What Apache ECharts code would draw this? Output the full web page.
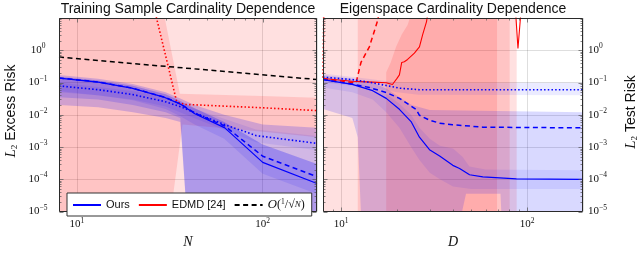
<!DOCTYPE html>
<html><head><meta charset="utf-8">
<script src="https://cdn.jsdelivr.net/npm/echarts@6/dist/echarts.min.js"></script>
<style>html,body{margin:0;padding:0;background:#fff}#c{width:640px;height:254px}</style>
</head><body><div id="c"></div>
<script>
// ================= DATA: left panel (x = N, training samples) =================
const N_ours = [8, 13, 19.7, 29.7, 36.5, 43.1, 62.5, 100, 196];
const L_ours_solid  = [0.137, 0.103, 0.0674, 0.0345, 0.0206, 0.0108, 0.00394, 3.36e-4, 7.4e-5];
const L_ours_dashed = [0.139, 0.104, 0.068, 0.035, 0.021, 0.0112, 0.0045, 5.2e-4, 1.21e-4];
const N_dot = [8, 13, 19.7, 29.7, 36.5, 44.7, 64, 92.5, 196];
const L_ours_dotted = [0.0786, 0.060, 0.043, 0.0257, 0.0174, 0.0105, 0.0047, 0.00226, 0.0013];
const N_edmd = [24, 34.4, 38, 100, 196];
const L_edmd_dotted = [140, 0.0257, 0.021, 0.0165, 0.0135];
const N_ref = [8, 196];
const L_ref = [0.614, 0.124];

// bands (left) : [x, value] pairs
const L_red1_up = [[8, 1e3], [196, 1e3]];
const L_red1_lo = [[8, 1e-6], [196, 1e-6]];
const L_red2_up = [[8, 1e3], [29.3, 1e3], [29.7, 10], [35.8, 0.045], [100, 0.038], [196, 0.034]];
const L_red2_lo = [[8, 1e-6], [30.4, 1e-6], [37, 0.005], [100, 0.003], [196, 0.002]];
const L_blueA_up = [[8, 0.17], [13, 0.13], [20, 0.09], [30, 0.05], [36, 0.032], [43, 0.02], [62, 0.01], [100, 0.005], [196, 0.004]];
const L_blueA_lo = [[8, 0.02], [13, 0.017], [20, 0.012], [30, 0.008], [36, 0.006], [40, 1e-6], [196, 1e-6]];
const L_blueB_up = [[8, 0.15], [13, 0.115], [20, 0.08], [30, 0.043], [36, 0.027], [43, 0.016], [62, 0.006], [100, 0.0012], [196, 3e-4]];
const L_blueB_lo = [[8, 0.035], [13, 0.03], [20, 0.02], [30, 0.012], [36, 0.008], [40, 1e-6], [196, 1e-6]];
const L_blueC_up = [[8, 0.15], [13, 0.115], [20, 0.08], [30, 0.043], [36, 0.027], [43, 0.016], [62, 0.006], [100, 0.0012], [196, 3e-4]];
const L_blueC_lo = [[8, 0.05], [13, 0.04], [20, 0.028], [30, 0.015], [36, 0.009], [43, 0.005], [62, 0.0018], [100, 1.5e-4], [196, 3.5e-5]];
const L_blueD_up = [[8, 0.1], [20, 0.055], [30, 0.035], [45, 0.014], [92, 0.0035], [196, 0.0022]];
const L_blueD_lo = [[8, 0.055], [20, 0.03], [30, 0.018], [45, 0.007], [92, 0.0014], [196, 8e-4]];

// ================= DATA: right panel (x = D, eigenspace size) =================
const D_ours_solid = [8, 11.5, 14.8, 17.5, 20.6, 23.8, 26.4, 29.9, 33.9, 39.9, 43.4, 49.1, 57.9, 87.7, 200];
const R_ours_solid = [0.123, 0.088, 0.056, 0.0323, 0.0148, 0.00618, 0.00202, 8.3e-4, 5.3e-4, 2.71e-4, 2.17e-4, 1.39e-4, 1.19e-4, 1.04e-4, 9.9e-5];
const D_ours_dashed = [8, 11.5, 14.2, 17.5, 20.6, 25.3, 26.4, 29.9, 33.9, 39.8, 57.8, 200];
const R_ours_dashed = [0.123, 0.09, 0.070, 0.049, 0.0323, 0.0148, 0.00967, 0.00683, 0.0055, 0.00495, 0.00413, 0.00394];
const D_ours_dotted = [8, 11.5, 14.8, 20.6, 26.4, 200];
const R_ours_dotted = [0.147, 0.123, 0.098, 0.067, 0.060, 0.060];
const D_edmd_solid = [8, 11.5, 14.8, 17.5, 18.9, 19.2, 20.0, 20.6, 21.2, 21.9, 22.8, 24.8, 26.4, 27.5, 28.8, 31, 85, 89.4, 94];
const R_edmd_solid = [0.134, 0.11, 0.103, 0.098, 0.087, 0.079, 0.134, 0.172, 0.419, 0.44, 0.52, 0.818, 1.28, 3.12, 7.6, 100, 100, 1.14, 40];
const D_edmd_dashed = [8, 12.05, 12.8, 14.2, 15.1, 15.75, 17, 93];
const R_edmd_dashed = [0.13, 0.098, 0.419, 1.28, 3.9, 8.5, 100, 100];
const D_edmd_dotted = [8, 8.15, 90];
const R_edmd_dotted = [0.14, 1000, 1000];

// bands (right)
const R_red1_up = [[8, 1e3], [88, 1e3]];
const R_red1_lo = [[8, 1e-6], [88, 1e-6]];
const R_red2_up = [[12.3, 1e3], [80.7, 1e3]];
const R_red2_lo = [[12.3, 1e-6], [80.7, 1e-6]];
const R_red3_up = [[17.5, 0.21], [18.5, 0.42], [19.8, 1.3], [21.2, 3.1], [22.8, 6.1], [24, 15], [25, 1e3], [69, 1e3]];
const R_red3_lo = [[17.5, 1e-6], [69, 1e-6]];
const R_blueA_up = [[8, 0.17], [11.5, 0.13], [14.8, 0.1], [17.5, 0.065], [20.6, 0.035], [24, 0.02], [30, 0.014], [200, 0.012]];
const R_blueA_lo = [[8, 0.015], [11.5, 0.008], [12.3, 0.002], [13, 1e-6], [41, 1e-6], [47, 3.6e-5], [72, 3.6e-5], [74, 1e-6], [200, 1e-6]];
const R_blueB_up = [[8, 0.15], [11.5, 0.105], [14.8, 0.07], [17.5, 0.045], [20.6, 0.022], [23.8, 0.01], [26.4, 0.004], [30, 0.0018], [34, 0.0011], [40, 9e-4], [45, 5e-4], [49, 2.5e-4], [60, 2e-4], [200, 1.9e-4]];
const R_blueB_lo = [[8, 0.07], [11.5, 0.05], [14.8, 0.03], [17.5, 0.012], [20.6, 0.004], [23.8, 1e-3], [26.4, 4e-4], [30, 1.6e-4], [34, 1e-4], [40, 6e-5], [50, 5e-5], [200, 5e-5]];
const R_blueD_up = [[8, 0.19], [14, 0.13], [20, 0.1], [26, 0.098], [200, 0.098]];
const R_blueD_lo = [[8, 0.1], [14, 0.07], [20, 0.05], [26, 0.042], [200, 0.04]];

// tick values
const X_MAJOR = [10, 100];
const X_MINOR = [9, 20, 30, 40, 50, 60, 70, 80, 90];
const Y_MAJOR = [1e-5, 1e-4, 1e-3, 1e-2, 1e-1, 1, 10];
const Y_MINOR = [];
[1e-5, 1e-4, 1e-3, 1e-2, 1e-1, 1].forEach(d => { for (let k = 2; k <= 9; k++) Y_MINOR.push(d * k); });

// ================= chart =================
const zip = (xs, ys) => xs.map((x, i) => [x, ys[i]]);
const RED_F = 'rgba(255,0,0,0.12)';
const BLU = a => 'rgba(0,0,255,' + a + ')';
const GRID_C = 'rgba(0,0,0,0.13)';
const SERIF = 'Liberation Serif';
const SANS = 'Liberation Sans';

function band(gi, up, lo, fill) {
  return {
    type: 'custom', xAxisIndex: gi, yAxisIndex: gi, silent: true, clip: true, z: 1,
    data: [[10, 1]],
    renderItem: (params, api) => {
      const pts = up.map(p => api.coord(p)).concat(lo.slice().reverse().map(p => api.coord(p)));
      const cs = params.coordSys;
      return {
        type: 'polygon', shape: { points: pts }, style: { fill: fill },
        clipPath: { type: 'rect', shape: { x: cs.x, y: cs.y, width: cs.width, height: cs.height } }
      };
    }
  };
}
function line(gi, name, data, color, type, width) {
  return {
    type: 'line', name: name, xAxisIndex: gi, yAxisIndex: gi, data: data,
    symbol: 'none', showSymbol: false, clip: true, z: 5, silent: true,
    lineStyle: { color: color, width: width, type: type }, itemStyle: { color: color }
  };
}
function frame(gi) {
  return {
    type: 'custom', xAxisIndex: gi, yAxisIndex: gi, silent: true, clip: false, z: 30,
    data: [[10, 1]],
    renderItem: (params, api) => {
      const cs = params.coordSys;
      const x0 = Math.round(cs.x) + 0.5, y0 = Math.round(cs.y) + 0.5;
      const x1 = Math.round(cs.x + cs.width) - 0.5, y1 = Math.round(cs.y + cs.height) - 0.5;
      const ch = [];
      const st = { stroke: '#555', lineWidth: 0.7 };
      const seg = (a, b, c, d) => ch.push({ type: 'line', shape: { x1: a, y1: b, x2: c, y2: d }, style: st });
      X_MAJOR.forEach(v => { const p = Math.round(api.coord([v, 1])[0]) + 0.5; seg(p, y1, p, y1 - 4); seg(p, y0, p, y0 + 4); });
      X_MINOR.forEach(v => { const p = Math.round(api.coord([v, 1])[0]) + 0.5; seg(p, y1, p, y1 - 2); seg(p, y0, p, y0 + 2); });
      Y_MAJOR.forEach(v => { const p = Math.round(api.coord([10, v])[1]) + 0.5; seg(x0, p, x0 + 4, p); seg(x1, p, x1 - 4, p); });
      Y_MINOR.forEach(v => { const p = Math.round(api.coord([10, v])[1]) + 0.5; seg(x0, p, x0 + 2, p); seg(x1, p, x1 - 2, p); });
      ch.push({ type: 'rect', shape: { x: x0, y: y0, width: x1 - x0, height: y1 - y0 }, style: { fill: null, stroke: '#2a2a2a', lineWidth: 1 } });
      return { type: 'group', children: ch };
    }
  };
}

function powFmt(lo, hi) {
  return v => {
    const e = Math.log10(v), r = Math.round(e);
    if (Math.abs(e - r) > 1e-6 || r < lo || r > hi) return '';
    return '{b|10}{e|' + (r < 0 ? '\u2212' + (-r) : r) + '}';
  };
}
const LAB_RICH = {
  b: { fontFamily: SERIF, fontSize: 11, color: '#111', lineHeight: 16 },
  e: { fontFamily: SERIF, fontSize: 7.5, color: '#111', lineHeight: 9, verticalAlign: 'top' }
};

function xAx(gi, max, name) {
  return {
    gridIndex: gi, type: 'log', logBase: 10, min: 8, max: max,
    name: name, nameLocation: 'middle', nameGap: 21,
    nameTextStyle: { fontFamily: SERIF, fontStyle: 'italic', fontSize: 14, color: '#111' },
    axisLine: { show: false }, axisTick: { show: false }, minorTick: { show: false },
    splitLine: { show: true, lineStyle: { color: GRID_C, width: 1 } },
    axisLabel: { formatter: powFmt(1, 2), rich: LAB_RICH, margin: 5, interval: 0, hideOverlap: false }
  };
}
function yAx(gi, pos) {
  return {
    gridIndex: gi, type: 'log', logBase: 10, min: 1e-5, max: 10, position: pos,
    axisLine: { show: false }, axisTick: { show: false }, minorTick: { show: false },
    splitLine: { show: true, lineStyle: { color: GRID_C, width: 1 } },
    axisLabel: {
      formatter: powFmt(-5, 0), rich: LAB_RICH, interval: 0, hideOverlap: false,
      align: pos === 'left' ? 'center' : 'left', margin: pos === 'left' ? 21 : 5
    }
  };
}

const series = [
  // left bands
  band(0, L_red1_up, L_red1_lo, RED_F),
  band(0, L_red2_up, L_red2_lo, RED_F),
  band(0, L_blueA_up, L_blueA_lo, BLU(0.18)),
  band(0, L_blueB_up, L_blueB_lo, BLU(0.16)),
  band(0, L_blueC_up, L_blueC_lo, BLU(0.1)),
  band(0, L_blueD_up, L_blueD_lo, BLU(0.08)),
  // right bands
  band(1, R_red1_up, R_red1_lo, RED_F),
  band(1, R_red2_up, R_red2_lo, RED_F),
  band(1, R_red3_up, R_red3_lo, RED_F),
  band(1, R_blueA_up, R_blueA_lo, BLU(0.15)),
  band(1, R_blueB_up, R_blueB_lo, BLU(0.08)),
  band(1, R_blueD_up, R_blueD_lo, BLU(0.08)),
  // left lines
  line(0, 'EDMD dotted L', zip(N_edmd, L_edmd_dotted), '#ff0000', [1.5, 2.2], 1.6),
  line(0, 'Ours', zip(N_ours, L_ours_solid), '#0000ff', 'solid', 1.2),
  line(0, 'Ours dashed L', zip(N_ours, L_ours_dashed), '#0000ff', [5, 3.5], 1.5),
  line(0, 'Ours dotted L', zip(N_dot, L_ours_dotted), '#0000ff', [1.5, 2.2], 1.6),
  line(0, 'bigO', zip(N_ref, L_ref), '#000000', [5, 3.5], 1.5),
  // right lines
  line(1, 'EDMD [24]', zip(D_edmd_solid, R_edmd_solid), '#ff0000', 'solid', 1.1),
  line(1, 'EDMD dashed R', zip(D_edmd_dashed, R_edmd_dashed), '#ff0000', [5, 3.5], 1.5),
  line(1, 'EDMD dotted R', zip(D_edmd_dotted, R_edmd_dotted), '#ff0000', [1.5, 2.2], 1.6),
  line(1, 'Ours solid R', zip(D_ours_solid, R_ours_solid), '#0000ff', 'solid', 1.2),
  line(1, 'Ours dashed R', zip(D_ours_dashed, R_ours_dashed), '#0000ff', [5, 3.5], 1.5),
  line(1, 'Ours dotted R', zip(D_ours_dotted, R_ours_dotted), '#0000ff', [1.5, 2.2], 1.6),
  frame(0), frame(1)
];

const option = {
  animation: false,
  backgroundColor: '#ffffff',
  grid: [
    { left: 59, top: 18, width: 258, height: 206 },
    { left: 323, top: 18, width: 260, height: 206 }
  ],
  xAxis: [xAx(0, 196, 'N'), xAx(1, 200, 'D')],
  yAxis: [yAx(0, 'left'), yAx(1, 'right')],
  legend: {
    data: ['Ours', 'EDMD [24]', 'bigO'],
    left: 67, top: 193, orient: 'horizontal',
    backgroundColor: '#ffffff', borderColor: '#333', borderWidth: 1, borderRadius: 0,
    padding: [5, 7, 5, 5], itemWidth: 28, itemHeight: 12, itemGap: 8,
    selectedMode: false, z: 40,
    itemStyle: { opacity: 0, borderWidth: 0 },
    textStyle: {
      fontFamily: SANS, fontSize: 11, color: '#111',
      rich: {
        o: { fontFamily: 'DejaVu Serif', fontStyle: 'italic', fontSize: 11.5, color: '#111' },
        t: { fontFamily: SERIF, fontSize: 12, color: '#111' },
        s: { fontFamily: SERIF, fontSize: 7.5, color: '#111', verticalAlign: 'top', lineHeight: 9 },
        n: { fontFamily: SERIF, fontStyle: 'italic', fontSize: 9, color: '#111', lineHeight: 14 }
      }
    },
    formatter: name => name === 'bigO' ? '{o|O}{t|(}{s|1}{t|/\u221A}{n|N}{t|)}' : name
  },
  graphic: [
    { type: 'text', x: 188, y: 9, z: 50, style: { text: 'Training Sample Cardinality Dependence', fontFamily: SANS, fontSize: 14, fill: '#111', align: 'center', verticalAlign: 'middle' } },
    { type: 'text', x: 453, y: 9, z: 50, style: { text: 'Eigenspace Cardinality Dependence', fontFamily: SANS, fontSize: 14, fill: '#111', align: 'center', verticalAlign: 'middle' } },
    { type: 'text', x: 11, y: 111, rotation: Math.PI / 2, z: 50, style: {
        text: '{i|L}{s|2}{n| Excess Risk}', align: 'center', verticalAlign: 'middle',
        rich: {
          i: { fontFamily: SERIF, fontStyle: 'italic', fontSize: 15, fill: '#111', lineHeight: 16 },
          s: { fontFamily: SERIF, fontSize: 9, fill: '#111', verticalAlign: 'bottom', lineHeight: 10 },
          n: { fontFamily: SANS, fontSize: 14, fill: '#111', lineHeight: 16 }
        } } },
    { type: 'text', x: 631, y: 112, rotation: Math.PI / 2, z: 50, style: {
        text: '{i|L}{s|2}{n| Test Risk}', align: 'center', verticalAlign: 'middle',
        rich: {
          i: { fontFamily: SERIF, fontStyle: 'italic', fontSize: 15, fill: '#111', lineHeight: 16 },
          s: { fontFamily: SERIF, fontSize: 9, fill: '#111', verticalAlign: 'bottom', lineHeight: 10 },
          n: { fontFamily: SANS, fontSize: 14, fill: '#111', lineHeight: 16 }
        } } }
  ],
  series: series
};
const chart = echarts.init(document.getElementById('c'), null, { renderer: 'canvas', width: 640, height: 254 });
chart.setOption(option);
</script></body></html>
